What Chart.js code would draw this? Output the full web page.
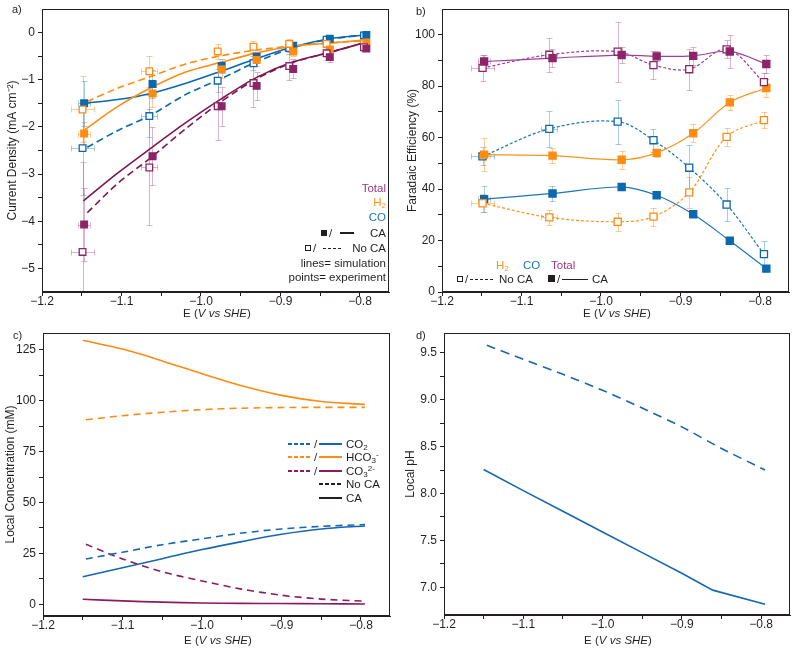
<!DOCTYPE html>
<html>
<head>
<meta charset="utf-8">
<title>CA electrolysis panels</title>
<script src="https://cdn.jsdelivr.net/npm/chart.js@4.4.1/dist/chart.umd.min.js"></script>
<style>
  body { margin: 0; background: #fff; }
  #fig { position: relative; width: 800px; height: 650px; overflow: hidden;
         font-family: "Liberation Sans", Arial, sans-serif; color: #231f20; }
  #fig canvas { position: absolute; }
  .t { position: absolute; white-space: nowrap; font-size: 11.5px; line-height: 14px; }
  .t sub { font-size: 70%; vertical-align: -0.3em; line-height: 0; }
  .t sup { font-size: 70%; vertical-align: 0.55em; line-height: 0; }
  .xt { transform: translateX(-50%); }
  .lbl { font-size: 11px; }
  .k { position: absolute; }
  .sq { background: #231f20; }
  .osq { border: 1px solid #231f20; background: #fff; }
  .ln { height: 1.5px; background: #231f20; }
  .dash { height: 1.5px; background: repeating-linear-gradient(90deg, #231f20 0 3px, transparent 3px 5px); }
</style>
</head>
<body>
<div id="fig">
  <canvas id="chA" width="400" height="320" style="left:0;top:0"></canvas>
  <canvas id="chB" width="400" height="320" style="left:400px;top:0"></canvas>
  <canvas id="chC" width="400" height="330" style="left:0;top:320px"></canvas>
  <canvas id="chD" width="400" height="330" style="left:400px;top:320px"></canvas>

  <!-- panel letters -->
  <div class="t lbl" style="left:12px;top:2px">a)</div>
  <div class="t lbl" style="left:416px;top:4px">b)</div>
  <div class="t lbl" style="left:13px;top:328px">c)</div>
  <div class="t lbl" style="left:416px;top:328px">d)</div>

  <!-- x titles -->
  <div class="t xt" style="left:217px;top:306px">E (<i>V vs SHE</i>)</div>
  <div class="t xt" style="left:617px;top:306px">E (<i>V vs SHE</i>)</div>
  <div class="t xt" style="left:218px;top:633px">E (<i>V vs SHE</i>)</div>
  <div class="t xt" style="left:618px;top:633px">E (<i>V vs SHE</i>)</div>

  <!-- a) legend -->
  <div class="t" style="right:414px;top:181px;color:#9a3a7a">Total</div>
  <div class="t" style="right:414px;top:195px;color:#f7941d">H<sub>2</sub></div>
  <div class="t" style="right:414px;top:210px;color:#1c75bc">CO</div>
  <div class="k sq" style="left:321px;top:230px;width:6px;height:6px"></div>
  <div class="t" style="left:329px;top:226px">/</div>
  <div class="k ln" style="left:340px;top:232px;width:14px"></div>
  <div class="t" style="right:414px;top:226px">CA</div>
  <div class="k osq" style="left:305px;top:245px;width:4px;height:4px"></div>
  <div class="t" style="left:313px;top:241px">/</div>
  <div class="k dash" style="left:323px;top:247.5px;width:20px"></div>
  <div class="t" style="right:414px;top:241px">No CA</div>
  <div class="t" style="right:414px;top:256px">lines= simulation</div>
  <div class="t" style="right:414px;top:270px">points= experiment</div>

  <!-- b) legend -->
  <div class="t" style="left:496px;top:258px;color:#f7941d">H<sub>2</sub></div>
  <div class="t" style="left:523px;top:258px;color:#1c75bc">CO</div>
  <div class="t" style="left:551px;top:258px;color:#9a3a7a">Total</div>
  <div class="k osq" style="left:457px;top:276px;width:4px;height:4px"></div>
  <div class="t" style="left:465px;top:272px">/</div>
  <div class="k dash" style="left:470px;top:278.5px;width:23px"></div>
  <div class="t" style="left:499px;top:272px">No CA</div>
  <div class="k sq" style="left:548px;top:275px;width:7px;height:7px"></div>
  <div class="t" style="left:557px;top:272px">/</div>
  <div class="k ln" style="left:562px;top:278.5px;width:26px"></div>
  <div class="t" style="left:592px;top:272px">CA</div>

  <!-- c) legend -->
  <div class="k dash" style="left:288px;top:442.5px;width:24px;height:2px;background:repeating-linear-gradient(90deg,#1666b0 0 4px,transparent 4px 6px)"></div>
  <div class="t" style="left:314px;top:436.8px">/</div>
  <div class="k ln" style="left:319px;top:442.5px;width:23px;height:2px;background:#1666b0"></div>
  <div class="t" style="left:346px;top:436.8px">CO<sub>2</sub></div>
  <div class="k dash" style="left:288px;top:456px;width:24px;height:2px;background:repeating-linear-gradient(90deg,#ff8a14 0 4px,transparent 4px 6px)"></div>
  <div class="t" style="left:314px;top:450.3px">/</div>
  <div class="k ln" style="left:319px;top:456px;width:23px;height:2px;background:#ff8a14"></div>
  <div class="t" style="left:346px;top:450.3px">HCO<sub>3</sub><sup>-</sup></div>
  <div class="k dash" style="left:288px;top:469.5px;width:24px;height:2px;background:repeating-linear-gradient(90deg,#8c1a5c 0 4px,transparent 4px 6px)"></div>
  <div class="t" style="left:314px;top:463.8px">/</div>
  <div class="k ln" style="left:319px;top:469.5px;width:23px;height:2px;background:#8c1a5c"></div>
  <div class="t" style="left:346px;top:463.8px">CO<sub>3</sub><sup>2-</sup></div>
  <div class="k dash" style="left:319px;top:483px;width:23px;height:2px;background:repeating-linear-gradient(90deg,#231f20 0 4px,transparent 4px 6px)"></div>
  <div class="t" style="left:346px;top:477.3px">No CA</div>
  <div class="k ln" style="left:319px;top:496.5px;width:23px;height:2px"></div>
  <div class="t" style="left:346px;top:490.8px">CA</div>
</div>

<script>
// ── shared x axis: E (V vs SHE) ──
const E_MIN = -1.2, E_MAX = -0.7635;
const E_MAJOR = [-1.2, -1.1, -1.0, -0.9, -0.8];
const E_MINOR = [-1.15, -1.05, -0.95, -0.85];

// ── experimental potentials (filled = CA, open = no CA) ──
const E_CA       = [-1.147, -1.061, -0.974, -0.930, -0.884, -0.838, -0.792];
const E_NOCA     = [-1.149, -1.065, -0.979, -0.934, -0.889, -0.842, -0.795];
const E_ERR_CA   = [0.008, 0.005, 0, 0, 0, 0, 0];
const E_ERR_NOCA = [0.014, 0.010, 0, 0, 0, 0, 0];

// ── a) current density, mA cm-2 ──
const A_Y_MAJOR = [-5, -4, -3, -2, -1, 0];
const A_Y_MINOR = [-4.5, -3.5, -2.5, -1.5, -0.5];
const A_TOT_CA       = [-4.07, -2.62, -1.56, -1.13, -0.77, -0.52, -0.34];
const A_TOT_CA_ERR   = [0.78, 0.61, 0.41, 0.30, 0.20, 0.10, 0.06];
const A_TOT_NOCA     = [-4.65, -2.86, -1.56, -1.07, -0.71, -0.44, -0.31];
const A_TOT_NOCA_ERR = [1.90, 1.23, 0.72, 0.50, 0.30, 0.15, 0.07];
const A_H2_CA        = [-2.14, -1.29, -0.78, -0.58, -0.40, -0.36, -0.21];
const A_H2_CA_ERR    = [0.25, 0.28, 0.18, 0.12, 0.10, 0.06, 0.04];
const A_H2_NOCA      = [-1.63, -0.82, -0.40, -0.30, -0.24, -0.24, -0.22];
const A_H2_NOCA_ERR  = [0.70, 0.33, 0.15, 0.12, 0.10, 0.06, 0.04];
const A_CO_CA        = [-1.50, -1.09, -0.71, -0.51, -0.28, -0.13, -0.05];
const A_CO_CA_ERR    = [0.47, 0.30, 0.15, 0.10, 0.07, 0.04, 0.02];
const A_CO_NOCA      = [-2.45, -1.77, -1.02, -0.65, -0.33, -0.15, -0.06];
const A_CO_NOCA_ERR  = [1.00, 0.45, 0.25, 0.15, 0.12, 0.05, 0.03];
// simulation lines
const A_SIM_E_CA     = [-1.148, -1.105, -1.063, -1.020, -0.975, -0.930, -0.884, -0.838, -0.794];
const A_SIM_E_NOCA   = [-1.143, -1.105, -1.063, -1.020, -0.975, -0.930, -0.884, -0.838, -0.794];
const A_SIM_TOT_CA   = [-3.57, -2.98, -2.45, -1.92, -1.41, -0.95, -0.62, -0.42, -0.21];
const A_SIM_TOT_NOCA = [-3.82, -3.20, -2.65, -2.05, -1.47, -0.98, -0.63, -0.42, -0.21];
const A_SIM_H2_CA    = [-2.08, -1.57, -1.17, -0.84, -0.63, -0.43, -0.29, -0.22, -0.16];
const A_SIM_H2_NOCA  = [-1.46, -1.18, -0.93, -0.67, -0.49, -0.37, -0.28, -0.22, -0.17];
const A_SIM_CO_CA    = [-1.50, -1.42, -1.29, -1.08, -0.82, -0.55, -0.30, -0.13, -0.05];
const A_SIM_CO_NOCA  = [-2.43, -2.08, -1.75, -1.32, -0.98, -0.62, -0.32, -0.14, -0.05];

// ── b) faradaic efficiency, % ──
const B_Y_MAJOR = [0, 20, 40, 60, 80, 100];
const B_Y_MINOR = [10, 30, 50, 70, 90];
const B_TOT_CA       = [89.6, 90.9, 92.1, 91.6, 91.8, 93.5, 88.6];
const B_TOT_CA_ERR   = [2.5, 3.5, 3.0, 2.0, 3.5, 6.5, 3.5];
const B_TOT_NOCA     = [87.1, 92.2, 93.4, 88.2, 86.6, 94.3, 81.6];
const B_TOT_NOCA_ERR = [5.0, 6.5, 11.7, 5.5, 8.0, 3.5, 3.5];
const B_H2_CA        = [53.4, 53.0, 51.4, 54.1, 61.7, 73.7, 79.3];
const B_H2_CA_ERR    = [6.5, 3.0, 3.5, 1.5, 3.5, 3.0, 3.5];
const B_H2_NOCA      = [34.5, 29.0, 27.3, 29.3, 38.7, 60.3, 66.8];
const B_H2_NOCA_ERR  = [3.5, 3.0, 3.5, 3.5, 6.0, 3.5, 3.0];
const B_CO_CA        = [36.1, 38.3, 40.8, 37.6, 30.2, 19.9, 9.1];
const B_CO_CA_ERR    = [5.0, 3.0, 1.0, 1.0, 1.0, 1.0, 1.0];
const B_CO_NOCA      = [52.7, 63.4, 66.2, 59.0, 48.3, 34.0, 14.7];
const B_CO_NOCA_ERR  = [3.5, 7.0, 8.5, 4.5, 9.0, 6.5, 5.0];

// ── c) local concentration, mM ──
const C_Y_MAJOR = [0, 25, 50, 75, 100, 125];
const C_Y_MINOR = [12.5, 37.5, 62.5, 87.5, 112.5];
const C_E_CA        = [-1.150, -1.100, -1.050, -1.000, -0.950, -0.900, -0.850, -0.795];
const C_E_NOCA      = [-1.146, -1.100, -1.050, -1.000, -0.950, -0.900, -0.850, -0.795];
const C_HCO3_CA     = [129.6, 125.3, 119.5, 113.2, 107.3, 102.6, 99.6, 98.1];
const C_HCO3_NOCA   = [90.6, 92.6, 94.3, 95.6, 96.3, 96.6, 96.7, 96.7];
const C_CO2_CA      = [13.6, 18.0, 22.4, 26.9, 30.8, 34.4, 37.0, 38.5];
const C_CO2_NOCA    = [22.3, 25.6, 29.3, 32.2, 35.0, 37.0, 38.3, 39.2];
const C_CO3_CA      = [2.5, 1.7, 1.1, 0.7, 0.5, 0.4, 0.3, 0.2];
const C_CO3_NOCA    = [29.5, 22.3, 16.0, 11.5, 7.5, 4.5, 2.6, 1.6];

// ── d) local pH ──
const D_Y_MAJOR = [7.0, 7.5, 8.0, 8.5, 9.0, 9.5];
const D_Y_MINOR = [7.25, 7.75, 8.25, 8.75, 9.25];
const D_E_CA     = [-1.150, -1.100, -1.050, -1.000, -0.950, -0.900, -0.861, -0.795];
const D_PH_CA    = [8.255, 8.03, 7.81, 7.59, 7.37, 7.15, 6.97, 6.82];
const D_E_NOCA   = [-1.146, -1.100, -1.050, -1.000, -0.950, -0.900, -0.850, -0.795];
const D_PH_NOCA  = [9.58, 9.43, 9.27, 9.10, 8.91, 8.71, 8.48, 8.25];

// ── colours ──
const INK = '#231f20';
const FONT = '"Liberation Sans", Arial, sans-serif';
const PURPLE = '#8e2468', PURPLE_A = '#7f1452', PURPLE_B = '#9e4196';
const ORANGE = '#ff8c12', ORANGE_B = '#f7941d';
const BLUE = '#0a68b0', BLUE_B = '#1a75bb';
const ERR_PURPLE = 'rgba(170,90,145,0.45)';
const ERR_ORANGE = 'rgba(255,160,60,0.55)';
const ERR_BLUE   = 'rgba(60,140,205,0.45)';
const C_BLUE = '#1666b0', C_ORANGE = '#ff8a14', C_PURPLE = '#8c1a5c';

// ── helpers ──
const isIn = (list, v) => list.some(m => Math.abs(m - v) < 1e-6);
const fmt = dec => v => (v < -1e-9 ? '\u2212' : '') + Math.abs(v).toFixed(dec);

function xAxis(h) {
  return {
    type: 'linear', min: E_MIN, max: E_MAX, bounds: 'data',
    afterBuildTicks: s => { s.ticks = E_MAJOR.concat(E_MINOR).sort((a, b) => a - b).map(v => ({ value: v })); },
    afterFit: s => { s.height = h; },
    ticks: { autoSkip: false, maxRotation: 0, padding: 0, color: INK,
             font: { family: FONT, size: 12, lineHeight: 1 },
             callback: v => isIn(E_MAJOR, v) ? fmt(1)(v) : '' },
    grid: { drawOnChartArea: false, tickLength: 4, tickColor: INK },
    border: { color: INK, width: 1 },
    title: { display: false }
  };
}

function yAxis(o) {
  return {
    type: 'linear', min: o.min, max: o.max, bounds: 'data',
    afterBuildTicks: s => { s.ticks = o.major.concat(o.minor).sort((a, b) => a - b).map(v => ({ value: v })); },
    afterFit: s => { s.width = o.width; },
    ticks: { autoSkip: false, padding: 3, color: INK,
             font: { family: FONT, size: 12, lineHeight: 1 },
             callback: v => isIn(o.major, v) ? fmt(o.dec)(v) : '' },
    grid: { drawOnChartArea: false, tickLength: 4, tickColor: INK },
    border: { color: INK, width: 1 },
    title: { display: true, text: o.title, color: INK,
             font: { family: FONT, size: 12, lineHeight: 1.2 },
             padding: { top: o.tpad, bottom: 0 } }
  };
}

function pts(xs, ys, color, filled, errY, errX, errColor, r) {
  return {
    data: xs.map((x, i) => ({ x, y: ys[i] })),
    showLine: false, order: 0,
    pointStyle: 'rect', pointRadius: r, pointBorderWidth: 1.3,
    pointBorderColor: color, borderColor: color,
    pointBackgroundColor: filled ? color : '#fff', backgroundColor: filled ? color : '#fff',
    errY, errX, errColor
  };
}

function line(xs, ys, color, dash, width, tension) {
  return {
    data: xs.map((x, i) => ({ x, y: ys[i] })),
    showLine: true, order: 1, pointRadius: 0, fill: false,
    borderColor: color, borderWidth: width, borderDash: dash || [], tension
  };
}

// error bars drawn under the markers, through the chart's own scales
const errorBars = {
  id: 'errorBars',
  beforeDatasetsDraw(chart) {
    const { ctx, chartArea: a, scales: { x, y } } = chart;
    ctx.save();
    ctx.beginPath(); ctx.rect(a.left, a.top, a.width, a.height); ctx.clip();
    ctx.lineWidth = 1;
    chart.data.datasets.forEach(ds => {
      if (!ds.errY) return;
      ctx.strokeStyle = ds.errColor;
      ds.data.forEach((p, i) => {
        const px = Math.round(x.getPixelForValue(p.x)) + 0.5;
        const py = Math.round(y.getPixelForValue(p.y)) + 0.5;
        const ey = ds.errY[i] || 0, ex = ds.errX ? (ds.errX[i] || 0) : 0;
        ctx.beginPath();
        if (ey) {
          const y1 = Math.round(y.getPixelForValue(p.y + ey)) + 0.5;
          const y2 = Math.round(y.getPixelForValue(p.y - ey)) + 0.5;
          ctx.moveTo(px, y1); ctx.lineTo(px, y2);
          ctx.moveTo(px - 3, y1); ctx.lineTo(px + 3, y1);
          ctx.moveTo(px - 3, y2); ctx.lineTo(px + 3, y2);
        }
        if (ex) {
          const x1 = Math.round(x.getPixelForValue(p.x - ex)) + 0.5;
          const x2 = Math.round(x.getPixelForValue(p.x + ex)) + 0.5;
          ctx.moveTo(x1, py); ctx.lineTo(x2, py);
          ctx.moveTo(x1, py - 3); ctx.lineTo(x1, py + 3);
          ctx.moveTo(x2, py - 3); ctx.lineTo(x2, py + 3);
        }
        ctx.stroke();
      });
    });
    ctx.restore();
  }
};

// closed frame round the plot area
const frame = {
  id: 'frame',
  afterDraw(chart) {
    const { ctx, chartArea: a } = chart;
    ctx.save();
    ctx.strokeStyle = INK; ctx.lineWidth = 1;
    ctx.strokeRect(Math.round(a.left) + 0.5, Math.round(a.top) + 0.5,
                   Math.round(a.right) - Math.round(a.left) - 1, Math.round(a.bottom) - Math.round(a.top) - 1);
    ctx.restore();
  }
};

function makeChart(id, datasets, xs, ys, pad) {
  return new Chart(document.getElementById(id), {
    type: 'scatter',
    data: { datasets },
    options: {
      responsive: false, animation: false, events: [],
      layout: { padding: pad },
      plugins: { legend: { display: false }, tooltip: { enabled: false } },
      scales: { x: xs, y: ys }
    },
    plugins: [errorBars, frame]
  });
}

// ── a) ──
makeChart('chA', [
  pts(E_CA,   A_TOT_CA,   PURPLE, true,  A_TOT_CA_ERR,   E_ERR_CA,   ERR_PURPLE, 4.7),
  pts(E_NOCA, A_TOT_NOCA, PURPLE, false, A_TOT_NOCA_ERR, E_ERR_NOCA, ERR_PURPLE, 4.7),
  pts(E_CA,   A_H2_CA,    ORANGE, true,  A_H2_CA_ERR,    E_ERR_CA,   ERR_ORANGE, 4.7),
  pts(E_NOCA, A_H2_NOCA,  ORANGE, false, A_H2_NOCA_ERR,  E_ERR_NOCA, ERR_ORANGE, 4.7),
  pts(E_CA,   A_CO_CA,    BLUE,   true,  A_CO_CA_ERR,    E_ERR_CA,   ERR_BLUE,   4.7),
  pts(E_NOCA, A_CO_NOCA,  BLUE,   false, A_CO_NOCA_ERR,  E_ERR_NOCA, ERR_BLUE,   4.7),
  line(A_SIM_E_CA,   A_SIM_TOT_CA,   PURPLE_A, null,   1.6, 0.3),
  line(A_SIM_E_NOCA, A_SIM_TOT_NOCA, PURPLE_A, [7, 4], 1.6, 0.3),
  line(A_SIM_E_CA,   A_SIM_H2_CA,    ORANGE,   null,   1.6, 0.3),
  line(A_SIM_E_NOCA, A_SIM_H2_NOCA,  ORANGE,   [7, 4], 1.6, 0.3),
  line(A_SIM_E_CA,   A_SIM_CO_CA,    BLUE,     null,   1.6, 0.3),
  line(A_SIM_E_NOCA, A_SIM_CO_NOCA,  BLUE,     [7, 4], 1.6, 0.3)
], xAxis(28), yAxis({ min: -5.5, max: 0.5, major: A_Y_MAJOR, minor: A_Y_MINOR, dec: 0,
  title: 'Current Density (mA cm\u207B\u00B2)', width: 42, tpad: 5 }),
  { top: 9, right: 11, left: 0, bottom: 0 });

// ── b) ──
makeChart('chB', [
  pts(E_CA,   B_TOT_CA,   PURPLE, true,  B_TOT_CA_ERR,   E_ERR_CA,   ERR_PURPLE, 5),
  pts(E_NOCA, B_TOT_NOCA, PURPLE, false, B_TOT_NOCA_ERR, E_ERR_NOCA, ERR_PURPLE, 5),
  pts(E_CA,   B_H2_CA,    ORANGE, true,  B_H2_CA_ERR,    E_ERR_CA,   ERR_ORANGE, 5),
  pts(E_NOCA, B_H2_NOCA,  ORANGE, false, B_H2_NOCA_ERR,  E_ERR_NOCA, ERR_ORANGE, 5),
  pts(E_CA,   B_CO_CA,    BLUE,   true,  B_CO_CA_ERR,    E_ERR_CA,   ERR_BLUE,   5),
  pts(E_NOCA, B_CO_NOCA,  BLUE,   false, B_CO_NOCA_ERR,  E_ERR_NOCA, ERR_BLUE,   5),
  line(E_CA,   B_TOT_CA,   PURPLE_B, null,   1.2, 0.35),
  line(E_NOCA, B_TOT_NOCA, PURPLE_B, [3, 2], 1.2, 0.35),
  line(E_CA,   B_H2_CA,    ORANGE_B, null,   1.2, 0.35),
  line(E_NOCA, B_H2_NOCA,  ORANGE_B, [3, 2], 1.2, 0.35),
  line(E_CA,   B_CO_CA,    BLUE_B,   null,   1.2, 0.35),
  line(E_NOCA, B_CO_NOCA,  BLUE_B,   [3, 2], 1.2, 0.35)
], xAxis(28), yAxis({ min: 0, max: 110, major: B_Y_MAJOR, minor: B_Y_MINOR, dec: 0,
  title: 'Faradaic Efficiency (%)', width: 42, tpad: 5 }),
  { top: 9, right: 11, left: 0, bottom: 0 });

// ── c) ──
makeChart('chC', [
  line(C_E_CA,   C_HCO3_CA,   C_ORANGE, null,   1.6, 0.3),
  line(C_E_NOCA, C_HCO3_NOCA, C_ORANGE, [7, 5], 1.6, 0.3),
  line(C_E_CA,   C_CO2_CA,    C_BLUE,   null,   1.6, 0.3),
  line(C_E_NOCA, C_CO2_NOCA,  C_BLUE,   [7, 5], 1.6, 0.3),
  line(C_E_CA,   C_CO3_CA,    C_PURPLE, null,   1.6, 0.3),
  line(C_E_NOCA, C_CO3_NOCA,  C_PURPLE, [7, 5], 1.6, 0.3)
], xAxis(34), yAxis({ min: -5.7, max: 133.2, major: C_Y_MAJOR, minor: C_Y_MINOR, dec: 0,
  title: 'Local Concentration (mM)', width: 43, tpad: 3 }),
  { top: 13, right: 10, left: 0, bottom: 0 });

// ── d) ──
makeChart('chD', [
  line(D_E_CA,   D_PH_CA,   C_BLUE, null,   1.6, 0),
  line(D_E_NOCA, D_PH_NOCA, C_BLUE, [9, 6], 1.6, 0.2)
], xAxis(35), yAxis({ min: 6.705, max: 9.71, major: D_Y_MAJOR, minor: D_Y_MINOR, dec: 1,
  title: 'Local pH', width: 44, tpad: 3 }),
  { top: 13, right: 10, left: 0, bottom: 0 });
</script>
</body>
</html>
